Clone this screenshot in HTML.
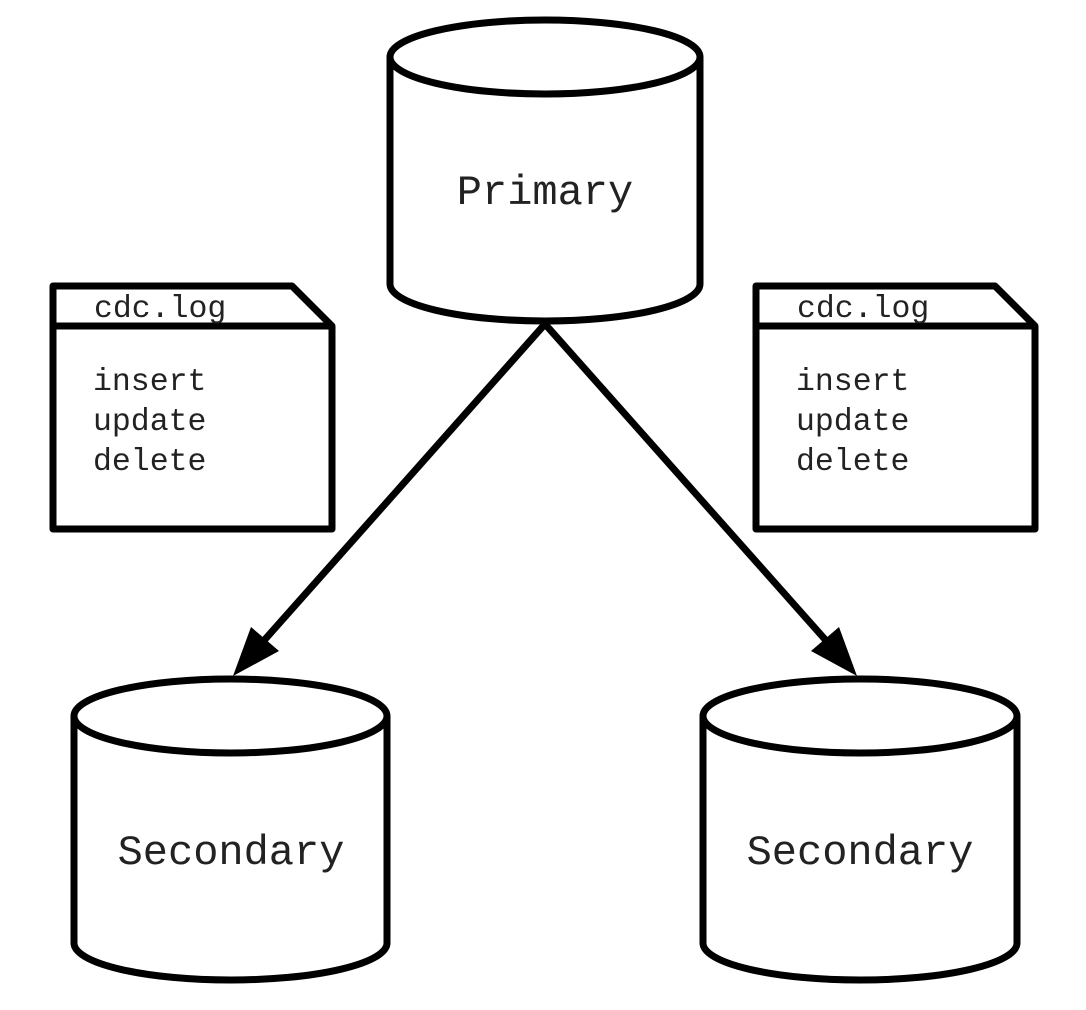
<!DOCTYPE html>
<html><head><style>
html,body{margin:0;padding:0;background:#fff;}
svg{display:block}
text{font-family:"Liberation Mono",monospace;fill:#222;}
</style></head><body>
<svg width="1086" height="1010" viewBox="0 0 1086 1010">
<g fill="#fff" stroke="#000" stroke-width="7" stroke-linejoin="round">
<path d="M390,57 L390,284 A155,37 0 0 0 700,284 L700,57"/>
<ellipse cx="545" cy="57" rx="155" ry="37"/>
<path d="M74,716 L74,943 A156.5,37 0 0 0 387,943 L387,716"/>
<ellipse cx="230.5" cy="716" rx="156.5" ry="37"/>
<path d="M703,716 L703,943 A157,37 0 0 0 1017,943 L1017,716"/>
<ellipse cx="860" cy="716" rx="157" ry="37"/>
<path d="M53,286 L292,286 L332,326 L332,529 L53,529 Z"/>
<line x1="53" y1="326" x2="332" y2="326"/>
<path d="M756,286 L995,286 L1035,326 L1035,529 L756,529 Z"/>
<line x1="756" y1="326" x2="1035" y2="326"/>
</g>
<g stroke="#000" stroke-width="7">
<line x1="545" y1="324" x2="260" y2="645"/>
<line x1="545" y1="324" x2="830" y2="645"/>
</g>
<polygon points="233,676 251,627 279,651" fill="#000"/>
<polygon points="857,676 811,651 839,627" fill="#000"/>
<g font-size="42">
<text x="545" y="204" text-anchor="middle">Primary</text>
<text x="231" y="864" text-anchor="middle">Secondary</text>
<text x="860" y="864" text-anchor="middle">Secondary</text>
</g>
<g font-size="31.5">
<text x="94" y="317">cdc.log</text>
<text x="93" y="390">insert</text>
<text x="93" y="430">update</text>
<text x="93" y="470">delete</text>
<text x="797" y="317">cdc.log</text>
<text x="796" y="390">insert</text>
<text x="796" y="430">update</text>
<text x="796" y="470">delete</text>
</g>
</svg>
</body></html>
